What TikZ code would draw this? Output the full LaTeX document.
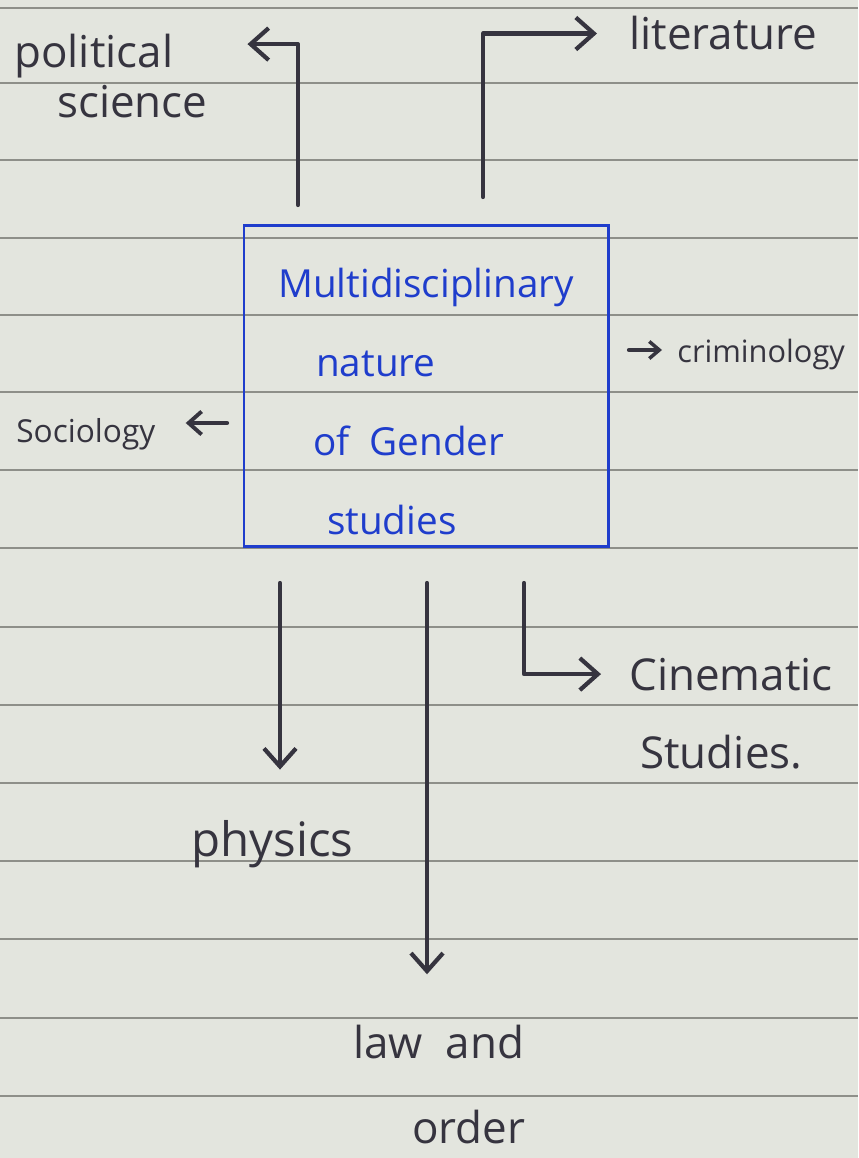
\documentclass[tikz,border=0pt]{standalone}
\usepackage{fontspec}
\setmainfont{Open Sans}
\usetikzlibrary{arrows.meta}
\definecolor{paper}{HTML}{E3E5DE}
\definecolor{ink}{HTML}{36343F}
\definecolor{bluepen}{HTML}{1F3DCC}
\definecolor{ruling}{HTML}{8E8F89}
\tikzset{inkline/.style={draw=ink,line width=2.4pt,line cap=round,line join=round},
         bigtip/.style={-{Straight Barb[length=3.6mm,width=6.4mm,line width=2.4pt]}},
         midtip/.style={-{Straight Barb[length=2.6mm,width=4.6mm,line width=2.2pt]}},
         smalltip/.style={-{Straight Barb[length=2mm,width=3.4mm,line width=2pt]}},
         labtext/.style={text=ink,anchor=base west,inner sep=0pt,
                         font=\fontsize{25}{30}\selectfont},
         genbox/.style={draw=bluepen,line width=1.7pt,text=bluepen,align=left,
                        minimum width=72.8mm,minimum height=64.2mm,inner sep=0pt,
                        font=\fontsize{22}{45}\selectfont}}

\begin{document}
\begin{tikzpicture}[x=0.2mm,y=-0.2mm]
  % the page
  \fill[paper] (0,0) rectangle (858,1158);
  \useasboundingbox (0,0) rectangle (858,1158);
  \foreach \ry in {8,83,160,238,315,392,470,548,627,705,783,861,939,1018,1096}
    \draw[ruling,line width=0.7pt] (0,\ry) -- (858,\ry);

  % centre box
  \node (gender) at (426,386) [genbox]
    {\rule{0pt}{12mm}Multidisciplinary\\
     \hspace*{7.6mm}nature\\
     \hspace*{7mm}of\ \ Gender\\
     \hspace*{9.8mm}studies};

  % labels
  \node (pol)   at (14,68)    [labtext] {political};
  \node (sci)   at (57,118)   [labtext] {science};
  \node (lit)   at (629,50)   [labtext] {literature};
  \node (crim)  at (677,362)  [labtext,font=\fontsize{17.5}{21}\selectfont] {criminology};
  \node (socio) at (16,442)   [labtext,font=\fontsize{18}{22}\selectfont] {Sociology};
  \node (cine)  at (629,690)  [labtext] {Cinematic};
  \node (stud)  at (640,768)  [labtext] {Studies.};
  \node (phys)  at (191,856)  [labtext,font=\fontsize{27}{32}\selectfont] {physics};
  \node (law)   at (353,1058) [labtext] {law\ \ and};
  \node (order) at (412,1143) [labtext] {order};

  % feet of the arrows near the box
  \coordinate (polfoot)   at (298,205);
  \coordinate (litfoot)   at (483,197);
  \coordinate (crimfoot)  at (629,350);
  \coordinate (sociofoot) at (227,423);
  \coordinate (physfoot)  at (280,583);
  \coordinate (lawfoot)   at (427,583);
  \coordinate (cinefoot)  at (524,583);

  \draw[inkline,bigtip,shorten >=14.8mm] (polfoot) |- ([yshift=2.5mm]pol.east);
  \draw[inkline,bigtip,shorten >=6.4mm] (litfoot) |- (lit.west);
  \draw[inkline,smalltip,shorten >=3mm] (crimfoot) -- (crimfoot -| crim.west);
  \draw[inkline,midtip,shorten >=6mm] (sociofoot) -- (sociofoot -| socio.east);
  \draw[inkline,bigtip,shorten >=10mm] (physfoot) -- (physfoot |- phys.north);
  \draw[inkline,bigtip,shorten >=10mm] (lawfoot) -- (lawfoot |- law.north);
  \draw[inkline,bigtip,shorten >=5.6mm] (cinefoot) |- (cine.west);
\end{tikzpicture}
\end{document}
